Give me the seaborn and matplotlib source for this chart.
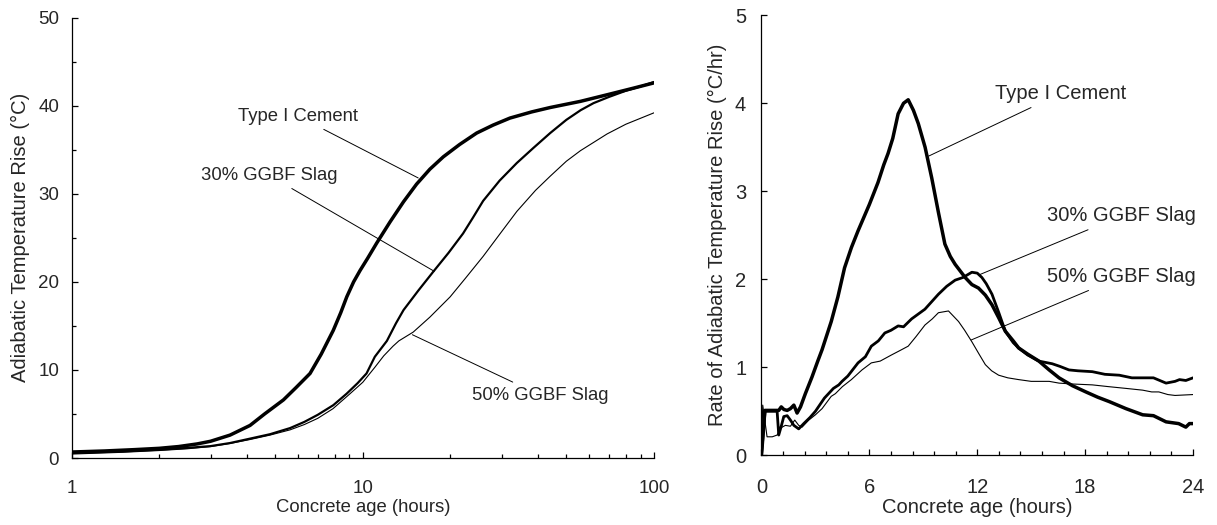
import matplotlib
matplotlib.use("Agg")
import matplotlib.pyplot as plt
import matplotlib.ticker as mticker
import numpy as np
import seaborn as sns

# ---- cumulative adiabatic temperature rise vs. age (log hours) ----
age_log_type1 = [1.0, 1.3, 1.64, 2.0, 2.33, 2.7, 3.0, 3.5, 4.1, 4.6, 5.34, 5.9, 6.59, 7.2,
                 7.92, 8.4, 8.81, 9.3, 9.79, 10.4, 11.16, 12.4, 13.8, 15.3, 17.0, 18.9,
                 21.5, 24.6, 28.0, 32.0, 38.0, 44.0, 55.9, 70.0, 85.0, 100.0]
rise_type1 = [0.68, 0.8, 0.95, 1.1, 1.3, 1.6, 1.9, 2.6, 3.7, 5.0, 6.6, 8.0, 9.6, 11.8,
              14.5, 16.5, 18.3, 20.0, 21.3, 22.7, 24.4, 26.8, 29.1, 31.1, 32.8, 34.2,
              35.6, 36.9, 37.8, 38.6, 39.3, 39.8, 40.5, 41.3, 42.0, 42.6]

age_log_slag30 = [1.0, 1.5, 2.0, 2.5, 3.0, 3.5, 4.1, 4.8, 5.63, 6.3, 7.0, 7.92, 8.8, 9.6,
                  10.3, 11.0, 12.1, 13.0, 13.8, 15.5, 17.5, 19.7, 22.1, 23.9, 25.9, 29.5,
                  33.8, 38.5, 44.0, 50.0, 56.0, 62.0, 70.0, 80.0, 90.0, 100.0]
rise_slag30 = [0.57, 0.75, 0.95, 1.15, 1.35, 1.7, 2.2, 2.7, 3.4, 4.1, 4.9, 6.0, 7.3, 8.5,
               9.6, 11.5, 13.3, 15.3, 16.8, 19.0, 21.2, 23.3, 25.5, 27.3, 29.2, 31.5,
               33.5, 35.2, 36.9, 38.4, 39.5, 40.3, 41.0, 41.7, 42.2, 42.7]

age_log_slag50 = [1.0, 1.5, 2.0, 2.5, 3.0, 3.5, 4.1, 4.8, 5.63, 6.3, 7.0, 7.9, 9.04, 10.0,
                  11.0, 11.8, 12.7, 13.3, 14.9, 17.0, 19.95, 22.5, 25.9, 29.5, 33.8, 39.2,
                  44.0, 50.0, 55.9, 69.0, 80.0, 100.0]
rise_slag50 = [0.45, 0.65, 0.85, 1.05, 1.3, 1.65, 2.1, 2.6, 3.2, 3.8, 4.5, 5.6, 7.3, 8.6,
               10.3, 11.6, 12.7, 13.3, 14.3, 16.0, 18.3, 20.4, 22.9, 25.4, 28.0, 30.4,
               32.0, 33.7, 34.9, 36.8, 37.9, 39.2]

# ---- rate of adiabatic temperature rise vs. age (hours) ----
age_type1 = [0.0, 0.19, 0.5, 0.96, 1.1, 1.25, 1.43, 1.61, 1.8, 1.98, 2.17, 2.44, 2.81, 3.13,
             3.37, 3.88, 4.25, 4.62, 5.0, 5.37, 6.0, 6.48, 6.8, 7.04, 7.3, 7.6, 7.9, 8.16,
             8.45, 8.72, 9.1, 9.47, 9.85, 10.2, 10.5, 10.77, 11.33, 11.7, 12.07, 12.45,
             12.82, 13.2, 13.56, 14.0, 14.3, 14.8, 15.43, 16.0, 16.55, 17.3, 18.04, 18.7,
             19.34, 20.27, 21.2, 21.8, 22.5, 23.2, 23.6, 23.8, 24.0]
rate_type1 = [0.0, 0.51, 0.51, 0.51, 0.55, 0.52, 0.51, 0.53, 0.57, 0.48, 0.55, 0.70, 0.89, 1.07,
              1.2, 1.52, 1.8, 2.13, 2.36, 2.55, 2.85, 3.1, 3.3, 3.43, 3.6, 3.88, 4.0, 4.04,
              3.92, 3.77, 3.5, 3.15, 2.75, 2.4, 2.26, 2.17, 2.02, 1.94, 1.9, 1.82,
              1.71, 1.56, 1.41, 1.3, 1.22, 1.15, 1.07, 0.97, 0.88, 0.79, 0.72, 0.66,
              0.61, 0.53, 0.46, 0.45, 0.38, 0.36, 0.32, 0.36, 0.36]

age_slag30 = [0.0, 0.2, 0.5, 0.87, 0.96, 1.1, 1.24, 1.43, 1.61, 1.8, 2.07, 2.35, 2.7, 3.0,
              3.5, 4.0, 4.3, 4.48, 4.8, 5.37, 5.78, 6.11, 6.5, 6.86, 7.2, 7.6, 7.9, 8.35,
              9.09, 9.84, 10.3, 10.77, 11.2, 11.7, 12.0, 12.26, 12.5, 12.82, 13.2, 13.56,
              14.0, 14.3, 14.8, 15.43, 16.17, 16.6, 17.1, 17.6, 18.4, 19.1, 19.9, 20.6,
              21.2, 21.8, 22.5, 23.0, 23.25, 23.6, 24.0]
rate_slag30 = [0.0, 0.5, 0.5, 0.5, 0.23, 0.33, 0.44, 0.45, 0.40, 0.34, 0.30, 0.36, 0.43, 0.5,
               0.65, 0.76, 0.80, 0.84, 0.9, 1.05, 1.12, 1.24, 1.3, 1.39, 1.42, 1.47, 1.46, 1.55,
               1.66, 1.83, 1.92, 1.99, 2.02, 2.08, 2.07, 2.02, 1.95, 1.83, 1.62, 1.41,
               1.28, 1.22, 1.14, 1.07, 1.04, 1.01, 0.97, 0.96, 0.95, 0.92, 0.91, 0.88,
               0.88, 0.88, 0.82, 0.84, 0.86, 0.85, 0.88]

age_slag50 = [0.0, 0.07, 0.31, 0.6, 0.87, 1.06, 1.33, 1.61, 1.85, 2.07, 2.26, 2.63, 3.0, 3.37,
              3.88, 4.11, 4.5, 5.0, 5.59, 6.11, 6.6, 7.23, 7.7, 8.16, 8.6, 9.09, 9.5, 9.84,
              10.4, 10.96, 11.3, 11.7, 12.1, 12.45, 12.8, 13.19, 13.7, 14.3, 15.0, 15.43,
              16.0, 16.55, 17.3, 18.4, 19.3, 20.27, 21.2, 21.7, 22.1, 22.6, 23.0, 24.0]
rate_slag50 = [0.0, 0.57, 0.21, 0.21, 0.23, 0.31, 0.34, 0.33, 0.40, 0.34, 0.32, 0.40, 0.46, 0.53,
               0.67, 0.70, 0.78, 0.86, 0.97, 1.05, 1.07, 1.14, 1.19, 1.24, 1.35, 1.48, 1.55, 1.62,
               1.64, 1.52, 1.42, 1.29, 1.15, 1.03, 0.96, 0.91, 0.88, 0.86, 0.84, 0.84,
               0.84, 0.82, 0.81, 0.80, 0.78, 0.76, 0.74, 0.72, 0.72, 0.69, 0.68, 0.69]

series_names = ["Type I Cement", "30% GGBF Slag", "50% GGBF Slag"]

log_ticks = [1, 10, 100]
log_tick_labels = ["1", "10", "100"]
rise_ticks = [0, 10, 20, 30, 40, 50]
hour_ticks = [0, 6, 12, 18, 24]
rate_ticks = [0, 1, 2, 3, 4, 5]

sns.set_style("ticks")
plt.rcParams["font.family"] = ["Liberation Sans", "DejaVu Sans"]

fig = plt.figure(figsize=(12.17, 5.25), dpi=100)
ax1 = fig.add_axes([0.0588, 0.1276, 0.4786, 0.8387])
ax2 = fig.add_axes([0.6257, 0.1328, 0.3546, 0.8381])

INK = "black"

def draw(ax, x, y, lw):
    sns.lineplot(x=x, y=y, ax=ax, color=INK, linewidth=lw, estimator=None,
                 sort=False, legend=False)

# ---- left panel ----
draw(ax1, age_log_type1, rise_type1, 2.5)
draw(ax1, age_log_slag30, rise_slag30, 1.6)
draw(ax1, age_log_slag50, rise_slag50, 0.8)
ax1.set_xscale("log")
ax1.set_xlim(1, 100)
ax1.set_ylim(0, 50)
ax1.set_xticks(log_ticks, labels=log_tick_labels)
ax1.xaxis.set_minor_locator(mticker.LogLocator(base=10, subs=np.arange(2, 10)))
ax1.xaxis.set_minor_formatter(mticker.NullFormatter())
ax1.set_yticks(rise_ticks)
ax1.yaxis.set_minor_locator(mticker.MultipleLocator(5))
ax1.set_xlabel("Concrete age (hours)", fontsize=13.3, labelpad=1)
ax1.set_ylabel("Adiabatic Temperature Rise (°C)", fontsize=14.5, labelpad=6)

lead = dict(color=INK, lw=0.7)
ax1.annotate(series_names[0], xy=(15.5, 31.8), xytext=(9.66, 38.8), ha="right", va="center",
             fontsize=13.3, arrowprops=dict(arrowstyle="-", shrinkA=2, shrinkB=0, **lead))
ax1.annotate(series_names[1], xy=(17.6, 21.2), xytext=(8.18, 32.1), ha="right", va="center",
             fontsize=13.3, arrowprops=dict(arrowstyle="-", shrinkA=2, shrinkB=0, **lead))
ax1.annotate(series_names[2], xy=(14.8, 14.0), xytext=(23.7, 7.15), ha="left", va="center",
             fontsize=13.3, arrowprops=dict(arrowstyle="-", shrinkA=2, shrinkB=0, **lead))

# ---- right panel ----
draw(ax2, age_type1, rate_type1, 2.5)
draw(ax2, age_slag30, rate_slag30, 2.0)
draw(ax2, age_slag50, rate_slag50, 0.8)
ax2.set_xlim(0, 24)
ax2.set_ylim(0, 5)
ax2.set_xticks(hour_ticks)
ax2.xaxis.set_minor_locator(mticker.MultipleLocator(1.2))
ax2.set_yticks(rate_ticks)
ax2.set_xlabel("Concrete age (hours)", fontsize=14.5, labelpad=1)
ax2.set_ylabel("Rate of Adiabatic Temperature Rise (°C/hr)", fontsize=14.5, labelpad=6)

ax2.annotate(series_names[0], xy=(9.3, 3.4), xytext=(12.98, 4.11), ha="left", va="center",
             fontsize=14.5, arrowprops=dict(arrowstyle="-", shrinkA=2, shrinkB=0, **lead))
ax2.annotate(series_names[1], xy=(12.1, 2.05), xytext=(15.88, 2.72), ha="left", va="center",
             fontsize=14.5, arrowprops=dict(arrowstyle="-", shrinkA=2, shrinkB=0, **lead))
ax2.annotate(series_names[2], xy=(11.66, 1.31), xytext=(15.88, 2.03), ha="left", va="center",
             fontsize=14.5, arrowprops=dict(arrowstyle="-", shrinkA=2, shrinkB=0, **lead))

for ax, fs, ypad in ((ax1, 13.5, 9), (ax2, 14.5, 11)):
    sns.despine(ax=ax)
    for side in ("left", "bottom"):
        ax.spines[side].set_linewidth(0.9)
        ax.spines[side].set_color(INK)
    ax.tick_params(which="both", direction="in", color=INK, width=0.9)
    ax.tick_params(which="major", length=4.5, labelsize=fs)
    ax.tick_params(which="minor", length=3)
    ax.tick_params(axis="x", which="major", pad=16)
    ax.tick_params(axis="y", which="major", pad=ypad)

fig.savefig("out.png", dpi=100)
